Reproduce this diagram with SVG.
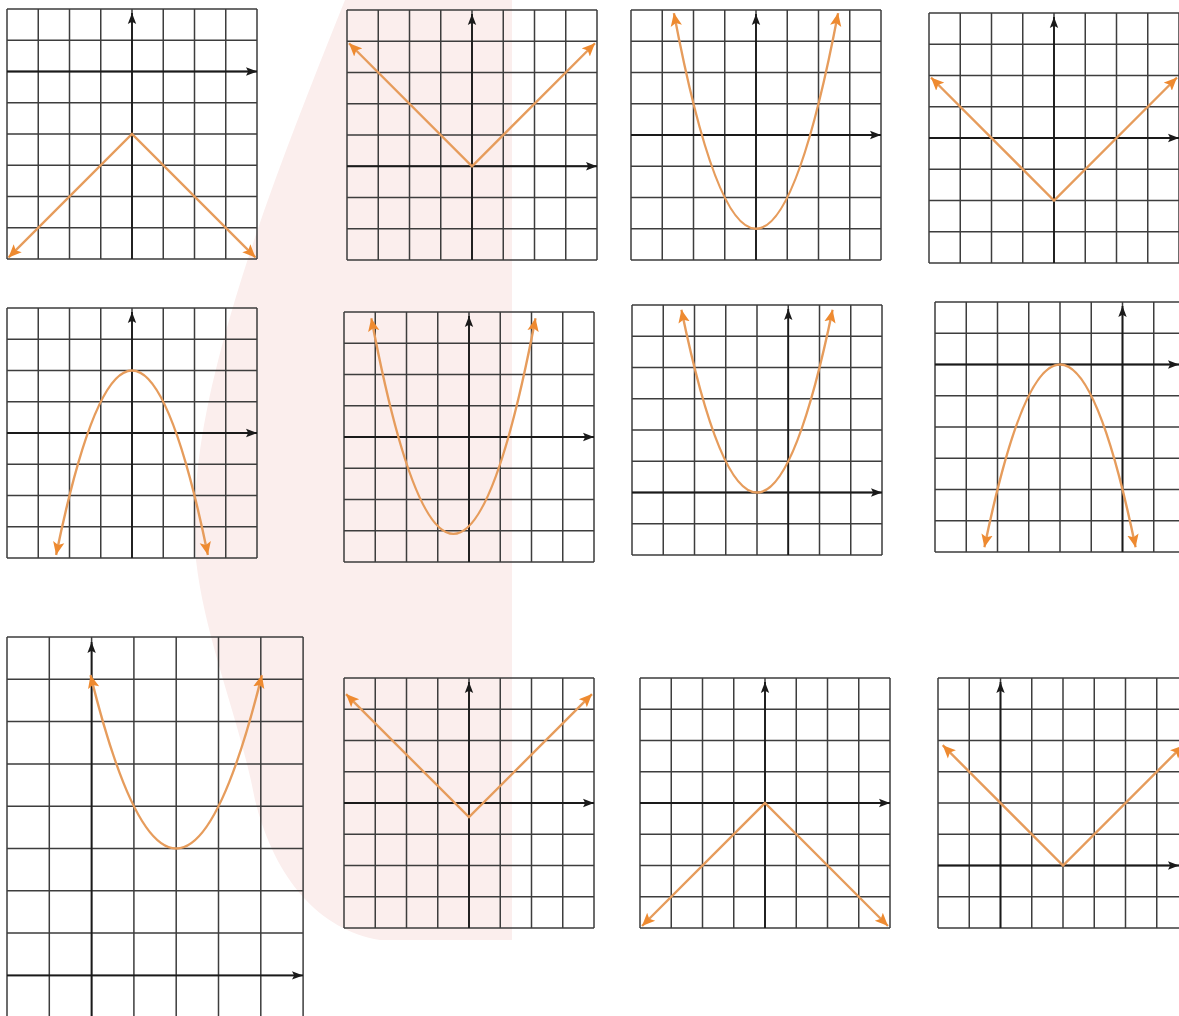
<svg xmlns="http://www.w3.org/2000/svg" xmlns:xlink="http://www.w3.org/1999/xlink" width="1179" height="1016" viewBox="0 0 1179 1016">
<style>
.axis{fill:none;stroke:#1a1a1a;stroke-width:1.8;marker-end:url(#ax)}
.curve{fill:none;stroke:#E69C5C;stroke-width:2.4;marker-start:url(#oa);marker-end:url(#oa)}
</style>
<defs>
<marker id="ax" markerUnits="userSpaceOnUse" markerWidth="12" markerHeight="10" refX="11" refY="5" orient="auto"><path d="M0,0.8 L11,5 L0,9.2 L2.2,5 Z" fill="#1a1a1a"/></marker>
<marker id="oa" markerUnits="userSpaceOnUse" markerWidth="14" markerHeight="13" refX="13" refY="6.5" orient="auto-start-reverse"><path d="M0,0.8 L13,6.5 L0,12.2 L2.8,6.5 Z" fill="#EE8A30"/></marker>
<path id="g8" fill="none" stroke="#3d3d3d" stroke-width="1.5" d="M0,0V250M31.25,0V250M62.5,0V250M93.75,0V250M125,0V250M156.25,0V250M187.5,0V250M218.75,0V250M250,0V250M0,0H250M0,31.25H250M0,62.5H250M0,93.75H250M0,125H250M0,156.25H250M0,187.5H250M0,218.75H250M0,250H250"/>
<path id="g9" fill="none" stroke="#3d3d3d" stroke-width="1.5" d="M0,0V385M42.3,0V385M84.6,0V385M126.9,0V385M169.2,0V385M211.5,0V385M253.8,0V385M296.1,0V385M0,0H296.1M0,42.3H296.1M0,84.6H296.1M0,126.9H296.1M0,169.2H296.1M0,211.5H296.1M0,253.8H296.1M0,296.1H296.1M0,338.4H296.1"/>
</defs>
<rect width="1179" height="1016" fill="#ffffff"/>
<g id="watermark">
<path d="M345,0 L512,0 L512,940 L380,940 C320,930 275,880 255,800 C240,720 205,640 196,560 C190,480 205,400 235,300 C265,200 305,100 345,0 Z" fill="#fbeeed"/>
</g>

<g id="graph1" transform="translate(7,9)">
<use href="#g8"/>
<path class="axis" d="M0,62.5H250"/>
<path class="axis" d="M125,250V4"/>
<path class="curve" d="M1.5,248.5L125,125L248.5,248.5"/>
</g>

<g id="graph2" transform="translate(347,10)">
<use href="#g8"/>
<path class="axis" d="M0,156.25H250"/>
<path class="axis" d="M125,250V4"/>
<path class="curve" d="M2,33.25L125,156.25L248,33.25"/>
</g>

<g id="graph3" transform="translate(631,10)">
<use href="#g8"/>
<path class="axis" d="M0,125H250"/>
<path class="axis" d="M125,250V4"/>
<path class="curve" d="M42.9,3.1Q125,434.4 207.1,3.1"/>
</g>

<g id="graph4" transform="translate(929,13)">
<use href="#g8"/>
<path class="axis" d="M0,125H250"/>
<path class="axis" d="M125,250V4"/>
<path class="curve" d="M2,64.5L125,187.5L248,64.5"/>
</g>

<g id="graph5" transform="translate(7,308)">
<use href="#g8"/>
<path class="axis" d="M0,125H250"/>
<path class="axis" d="M125,250V4"/>
<path class="curve" d="M49.1,246.9Q125,-121.9 200.9,246.9"/>
</g>

<g id="graph6" transform="translate(344,312)">
<use href="#g8"/>
<path class="axis" d="M0,125H250"/>
<path class="axis" d="M125,250V4"/>
<path class="curve" d="M27.3,6.25Q109.4,437.5 191.5,6.25"/>
</g>

<g id="graph7" transform="translate(632,305)">
<use href="#g8"/>
<path class="axis" d="M0,187.5H250"/>
<path class="axis" d="M156.25,250V4"/>
<path class="curve" d="M49.4,4.7Q125,370.3 200.6,4.7"/>
</g>

<g id="graph8" transform="translate(935,302)">
<use href="#g8"/>
<path class="axis" d="M0,62.5H244"/>
<path class="axis" d="M187.5,250V4"/>
<path class="curve" d="M49.4,245.3Q125,-120.3 200.6,245.3"/>
</g>

<g id="graph9" transform="translate(7,637)">
<use href="#g9"/>
<path class="axis" d="M0,338.4H296"/>
<path class="axis" d="M84.6,385V5"/>
<path class="curve" d="M83.5,38.1Q169.2,384.9 254.9,38.1"/>
</g>

<g id="graph10" transform="translate(344,678)">
<use href="#g8"/>
<path class="axis" d="M0,125H250"/>
<path class="axis" d="M125,250V4"/>
<path class="curve" d="M2,16.1L125,139.1L248,16.1"/>
</g>

<g id="graph11" transform="translate(640,678)">
<use href="#g8"/>
<path class="axis" d="M0,125H250"/>
<path class="axis" d="M125,250V4"/>
<path class="curve" d="M2,248L125,125L248,248"/>
</g>

<g id="graph12" transform="translate(938,678)">
<use href="#g8"/>
<path class="axis" d="M0,187.5H241"/>
<path class="axis" d="M62.5,250V4"/>
<path class="curve" d="M4.7,67.2L125,187.5L245.3,67.2"/>
</g>
</svg>
